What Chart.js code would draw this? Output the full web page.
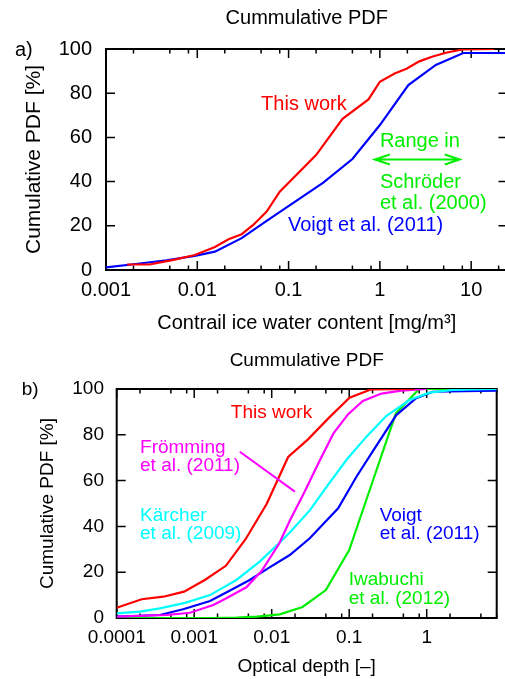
<!DOCTYPE html>
<html>
<head>
<meta charset="utf-8">
<script src="https://cdn.jsdelivr.net/npm/chart.js@4.4.0/dist/chart.umd.min.js"></script>
<style>
  html, body { margin: 0; padding: 0; background: #fff; overflow: hidden; }
  #wrap { position: relative; width: 505px; height: 679px; overflow: hidden; }
  #chartA { position: absolute; left: 0; top: 0; }
  #chartB { position: absolute; left: 0; top: 340px; }
</style>
</head>
<body>
<div id="wrap">
  <canvas id="chartA" width="520" height="340"></canvas>
  <canvas id="chartB" width="505" height="339"></canvas>
</div>
<script>
// y axis, shared by both panels
const pdfTicks = [0, 20, 40, 60, 80, 100];

// a) contrail ice water content [mg/m3]
const iwcTicks = [0.001, 0.01, 0.1, 1, 10];
const iwcTickLabels = ['0.001', '0.01', '0.1', '1', '10'];
const iwcThisWorkX = [0.0017, 0.003, 0.0055, 0.0094, 0.0156, 0.022, 0.0306, 0.041, 0.0575, 0.08, 0.2, 0.39, 0.75, 1.0, 1.45, 1.96, 2.7, 3.8, 5.3, 8.0, 18];
const iwcThisWorkY = [2.5, 2.5, 4.6, 6.8, 10.4, 13.9, 16.2, 20.4, 26.4, 35.4, 52.0, 68.4, 77.2, 85.2, 88.9, 91.1, 94.4, 96.6, 98.3, 99.8, 100];
const iwcVoigtX = [0.001, 0.002, 0.0046, 0.0094, 0.0156, 0.0306, 0.0575, 0.24, 0.5, 1.0, 2.05, 4.1, 8.2, 25];
const iwcVoigtY = [1.2, 2.6, 4.4, 6.4, 8.3, 14.4, 22.2, 39.5, 50.2, 65.6, 83.7, 92.8, 98.2, 98.2];
const schroederRange = [0.88, 7.5];
const schroederLevel = 50;

// b) optical depth [-]
const tauTicks = [0.0001, 0.001, 0.01, 0.1, 1];
const tauTickLabels = ['0.0001', '0.001', '0.01', '0.1', '1'];
const tauThisWorkX = [0.0001, 0.00021, 0.0004, 0.00074, 0.00137, 0.00256, 0.0046, 0.0086, 0.0163, 0.0294, 0.055, 0.101, 0.19, 0.7];
const tauThisWorkY = [4.5, 8.2, 9.3, 11.5, 16.6, 22.8, 34.4, 49.8, 70.3, 78.0, 87.5, 96.2, 99.8, 100];
const tauFroemmingX = [0.0001, 0.00044, 0.00088, 0.00176, 0.0026, 0.0047, 0.0074, 0.0125, 0.0171, 0.026, 0.042, 0.063, 0.097, 0.15, 0.26, 0.47, 1.0];
const tauFroemmingY = [0.6, 1.3, 2.3, 5.7, 8.6, 13.4, 20.5, 32.5, 42.5, 54.5, 69.0, 80.8, 89.0, 94.8, 98.0, 99.3, 100];
const tauKaercherX = [0.0001, 0.0002, 0.00036, 0.00076, 0.0016, 0.0035, 0.007, 0.0127, 0.0171, 0.031, 0.053, 0.092, 0.167, 0.3, 0.6, 1.09, 2.2, 8];
const tauKaercherY = [2.0, 2.8, 4.2, 6.6, 10.0, 16.6, 24.6, 33.0, 37.3, 47.0, 58.0, 69.0, 79.2, 88.2, 95.2, 98.4, 99.6, 100];
const tauVoigtX = [0.0001, 0.00036, 0.00072, 0.0016, 0.0027, 0.0052, 0.0095, 0.0171, 0.031, 0.044, 0.072, 0.124, 0.213, 0.405, 0.73, 1.2, 8];
const tauVoigtY = [0.6, 1.3, 3.8, 7.4, 11.5, 16.6, 22.2, 27.5, 34.8, 40.3, 47.9, 61.7, 74.1, 88.6, 96.0, 98.8, 99.3];
const tauIwabuchiX = [0.0001, 0.0017, 0.0035, 0.0065, 0.0127, 0.025, 0.05, 0.1, 0.2, 0.4, 0.8, 8];
const tauIwabuchiY = [0, 0, 0.2, 0.6, 1.6, 4.8, 12.2, 29.7, 59.5, 89.4, 100, 100];
const froemmingPointer = [[0.00388, 72.6], [0.0199, 55.2]];

const RED = '#ff0000', BLUE = '#0000ff', GREEN = '#00ee00', MAGENTA = '#ff00ff', CYAN = '#00ffff';
const FONT = "'Liberation Sans', Arial, Helvetica, sans-serif";

Chart.defaults.font.family = FONT;
Chart.defaults.color = '#000';

const pts = (xs, ys) => xs.map((x, i) => ({ x: x, y: ys[i] }));

// gnuplot style box with inward tics (minor tics at 2, 5, 8)
const boxPlugin = {
    id: 'box',
    beforeDatasetsDraw(chart) {
        const { ctx, chartArea: a } = chart;
        const x = chart.scales.x, y = chart.scales.y;
        ctx.save();
        ctx.strokeStyle = '#000';
        ctx.lineWidth = 1.5;
        ctx.beginPath();
        const lo = Math.floor(Math.log10(x.min)), hi = Math.ceil(Math.log10(x.max));
        for (let d = lo; d <= hi; d++) {
            [1, 2, 5, 8].forEach(m => {
                const v = m * Math.pow(10, d);
                if (v < x.min * 0.999 || v > x.max * 1.001) return;
                const px = x.getPixelForValue(v), len = m === 1 ? 9 : 4.5;
                ctx.moveTo(px, a.bottom); ctx.lineTo(px, a.bottom - len);
                ctx.moveTo(px, a.top); ctx.lineTo(px, a.top + len);
            });
        }
        pdfTicks.forEach(v => {
            const py = y.getPixelForValue(v);
            ctx.moveTo(a.left, py); ctx.lineTo(a.left + 9, py);
            ctx.moveTo(a.right, py); ctx.lineTo(a.right - 9, py);
        });
        ctx.stroke();
        ctx.lineWidth = 2;
        ctx.strokeRect(a.left, a.top, a.right - a.left, a.bottom - a.top);
        ctx.restore();
    }
};

function notesPlugin(notes, tag, size, extra) {
    return {
        id: 'notes',
        afterDatasetsDraw(chart) {
            const { ctx } = chart;
            const x = chart.scales.x, y = chart.scales.y;
            ctx.save();
            ctx.font = size + 'px ' + FONT;
            ctx.textAlign = 'left';
            ctx.textBaseline = 'middle';
            notes.forEach(n => {
                ctx.fillStyle = n.color;
                ctx.fillText(n.text, x.getPixelForValue(n.x), y.getPixelForValue(n.y));
            });
            ctx.fillStyle = '#000';
            ctx.fillText(tag.text, tag.left, tag.top);
            if (extra) extra(ctx, x, y);
            ctx.restore();
        }
    };
}

function makeChart(id, p) {
    return new Chart(document.getElementById(id), {
        type: 'line',
        data: {
            datasets: p.series.map(s => ({
                data: pts(s.x, s.y),
                borderColor: s.color,
                borderWidth: 2.2,
                pointRadius: 0,
                tension: 0,
                fill: false
            }))
        },
        options: {
            responsive: false,
            animation: false,
            events: [],
            layout: { padding: { left: 0, right: p.padRight, top: 0, bottom: 0 } },
            plugins: {
                legend: { display: false },
                tooltip: { enabled: false },
                title: {
                    display: true,
                    text: 'Cummulative PDF',
                    fullSize: false,
                    color: '#000',
                    font: { size: p.titleSize, weight: 'normal', lineHeight: 1.2 },
                    padding: p.titlePad
                }
            },
            scales: {
                x: {
                    type: 'logarithmic',
                    min: p.xMin,
                    max: p.xMax,
                    grid: { display: false, drawTicks: false },
                    border: { display: false },
                    afterFit: s => { s.height = p.xHeight; },
                    afterBuildTicks: s => { s.ticks = p.xTicks.map(v => ({ value: v })); },
                    ticks: {
                        autoSkip: false, maxRotation: 0, minRotation: 0,
                        padding: p.xTickPad,
                        font: { size: p.tickSize },
                        callback: (v, i) => p.xLabels[i]
                    },
                    title: {
                        display: true, text: p.xTitle, color: '#000',
                        font: { size: p.labelSize, lineHeight: 1.2 },
                        padding: { top: 0, bottom: p.xTitlePad }
                    }
                },
                y: {
                    min: 0,
                    max: 100,
                    grid: { display: false, drawTicks: false },
                    border: { display: false },
                    afterFit: s => { s.width = p.yWidth; },
                    ticks: { stepSize: 20, padding: p.yTickPad, font: { size: p.tickSize } },
                    title: {
                        display: true, text: 'Cumulative PDF [%]', color: '#000',
                        font: { size: p.yLabelSize, lineHeight: 1.2 },
                        padding: { top: p.yTitlePad, bottom: 0 }
                    }
                }
            }
        },
        plugins: [boxPlugin, p.notes]
    });
}

makeChart('chartA', {
    series: [
        { x: iwcThisWorkX, y: iwcThisWorkY, color: RED },
        { x: iwcVoigtX, y: iwcVoigtY, color: BLUE }
    ],
    xMin: 0.001, xMax: 25, xTicks: iwcTicks, xLabels: iwcTickLabels,
    xTitle: 'Contrail ice water content [mg/m\u00b3]',
    padRight: 12.5, titleSize: 20, titlePad: { top: 6, bottom: 19 },
    xHeight: 70, xTickPad: 8.7, xTitlePad: 5, tickSize: 20, labelSize: 20,
    yWidth: 106, yTickPad: 14, yTitlePad: 22, yLabelSize: 21,
    notes: notesPlugin([
        { text: 'This work', x: 0.05, y: 75.1, color: RED },
        { text: 'Voigt et al. (2011)', x: 0.0985, y: 20, color: BLUE },
        { text: 'Range in', x: 1.0, y: 58, color: GREEN },
        { text: 'Schröder', x: 1.0, y: 39.5, color: GREEN },
        { text: 'et al. (2000)', x: 1.0, y: 30.3, color: GREEN }
    ], { text: 'a)', left: 15, top: 50 }, 20, (ctx, x, y) => {
        const y0 = y.getPixelForValue(schroederLevel);
        const x0 = x.getPixelForValue(schroederRange[0]);
        const x1 = x.getPixelForValue(schroederRange[1]);
        ctx.strokeStyle = GREEN;
        ctx.lineWidth = 2;
        ctx.beginPath();
        ctx.moveTo(x0, y0); ctx.lineTo(x1, y0);
        ctx.moveTo(x0 + 15, y0 - 5); ctx.lineTo(x0, y0); ctx.lineTo(x0 + 15, y0 + 5);
        ctx.moveTo(x1 - 15, y0 - 5); ctx.lineTo(x1, y0); ctx.lineTo(x1 - 15, y0 + 5);
        ctx.stroke();
    })
});

makeChart('chartB', {
    series: [
        { x: tauThisWorkX, y: tauThisWorkY, color: RED },
        { x: tauFroemmingX, y: tauFroemmingY, color: MAGENTA },
        { x: tauKaercherX, y: tauKaercherY, color: CYAN },
        { x: tauVoigtX, y: tauVoigtY, color: BLUE },
        { x: tauIwabuchiX, y: tauIwabuchiY, color: GREEN }
    ],
    xMin: 0.0001, xMax: 8, xTicks: tauTicks, xLabels: tauTickLabels,
    xTitle: 'Optical depth [\u2013]',
    padRight: 8.3, titleSize: 19, titlePad: { top: 9.6, bottom: 16.6 },
    xHeight: 61, xTickPad: 8.3, xTitlePad: 0.6, tickSize: 19, labelSize: 19,
    yWidth: 116.7, yTickPad: 12.7, yTitlePad: 36, yLabelSize: 19,
    notes: notesPlugin([
        { text: 'This work', x: 0.00297, y: 89.8, color: RED },
        { text: 'Frömming', x: 0.0002, y: 74.5, color: MAGENTA },
        { text: 'et al. (2011)', x: 0.0002, y: 66.4, color: MAGENTA },
        { text: 'Kärcher', x: 0.0002, y: 44.7, color: CYAN },
        { text: 'et al. (2009)', x: 0.0002, y: 36.6, color: CYAN },
        { text: 'Voigt', x: 0.247, y: 44.7, color: BLUE },
        { text: 'et al. (2011)', x: 0.247, y: 36.6, color: BLUE },
        { text: 'Iwabuchi', x: 0.0985, y: 16.9, color: GREEN },
        { text: 'et al. (2012)', x: 0.0985, y: 8.3, color: GREEN }
    ], { text: 'b)', left: 21.7, top: 50 }, 19, (ctx, x, y) => {
        ctx.strokeStyle = MAGENTA;
        ctx.lineWidth = 2;
        ctx.beginPath();
        ctx.moveTo(x.getPixelForValue(froemmingPointer[0][0]), y.getPixelForValue(froemmingPointer[0][1]));
        ctx.lineTo(x.getPixelForValue(froemmingPointer[1][0]), y.getPixelForValue(froemmingPointer[1][1]));
        ctx.stroke();
    })
});
</script>
</body>
</html>
